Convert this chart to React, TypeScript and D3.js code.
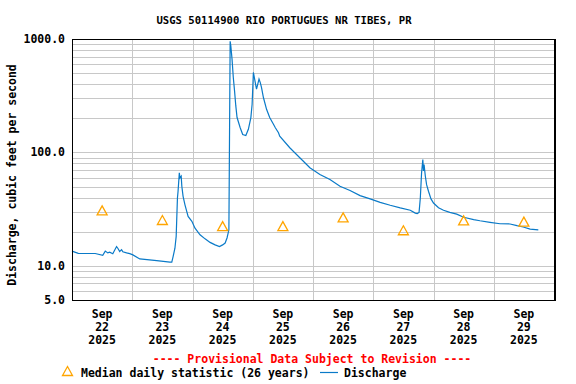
import { useEffect, useRef } from 'react';
import * as d3 from 'd3';

// discharge readings (cfs)
const dischargeTimes = [
  '2025-09-22 00:00', '2025-09-22 02:30', '2025-09-22 09:15', '2025-09-22 12:15', '2025-09-22 13:15',
  '2025-09-22 14:15', '2025-09-22 15:00', '2025-09-22 16:15', '2025-09-22 17:45', '2025-09-22 18:15',
  '2025-09-22 19:00', '2025-09-22 19:45', '2025-09-22 20:15', '2025-09-22 21:45', '2025-09-22 23:00',
  '2025-09-23 00:15', '2025-09-23 03:00', '2025-09-23 09:45', '2025-09-23 15:00', '2025-09-23 15:45',
  '2025-09-23 16:15', '2025-09-23 17:00', '2025-09-23 17:30', '2025-09-23 18:00', '2025-09-23 18:15',
  '2025-09-23 18:45', '2025-09-23 19:00', '2025-09-23 19:30', '2025-09-23 19:45', '2025-09-23 20:15',
  '2025-09-23 21:00', '2025-09-23 22:15', '2025-09-23 23:45', '2025-09-24 01:00', '2025-09-24 03:00',
  '2025-09-24 05:00', '2025-09-24 07:00', '2025-09-24 09:00', '2025-09-24 10:45', '2025-09-24 12:00',
  '2025-09-24 13:00', '2025-09-24 13:45', '2025-09-24 14:30', '2025-09-24 15:00', '2025-09-24 15:15',
  '2025-09-24 15:45', '2025-09-24 16:15', '2025-09-24 16:45', '2025-09-24 17:15', '2025-09-24 17:45',
  '2025-09-24 19:00', '2025-09-24 20:00', '2025-09-24 21:15', '2025-09-24 22:15', '2025-09-24 23:15',
  '2025-09-24 23:45', '2025-09-25 00:15', '2025-09-25 00:45', '2025-09-25 01:15', '2025-09-25 01:30',
  '2025-09-25 02:00', '2025-09-25 02:30', '2025-09-25 03:00', '2025-09-25 03:30', '2025-09-25 04:15',
  '2025-09-25 05:30', '2025-09-25 06:45', '2025-09-25 08:15', '2025-09-25 09:00', '2025-09-25 10:15',
  '2025-09-25 10:45', '2025-09-25 14:45', '2025-09-25 18:45', '2025-09-25 22:45', '2025-09-26 02:45',
  '2025-09-26 06:45', '2025-09-26 10:45', '2025-09-26 14:45', '2025-09-26 18:45', '2025-09-26 22:45',
  '2025-09-27 02:45', '2025-09-27 06:45', '2025-09-27 10:45', '2025-09-27 14:45', '2025-09-27 16:45',
  '2025-09-27 17:30', '2025-09-27 18:15', '2025-09-27 18:45', '2025-09-27 19:15', '2025-09-27 19:45',
  '2025-09-27 20:00', '2025-09-27 20:15', '2025-09-27 20:45', '2025-09-27 21:15', '2025-09-27 22:00',
  '2025-09-27 23:00', '2025-09-28 00:00', '2025-09-28 02:00', '2025-09-28 04:00', '2025-09-28 06:30',
  '2025-09-28 09:15', '2025-09-28 12:00', '2025-09-28 16:00', '2025-09-28 18:30', '2025-09-28 22:30',
  '2025-09-29 02:30', '2025-09-29 06:30', '2025-09-29 09:15', '2025-09-29 11:45', '2025-09-29 14:30',
  '2025-09-29 17:45',
];
const dischargeValues = [
  13.5, 12.9, 12.85, 12.4, 13.5,
  13.0, 13.2, 12.8, 14.8, 14.3,
  13.4, 13.9, 13.3, 13.0, 12.8,
  12.5, 11.5, 11.1, 10.8, 10.8,
  12.0, 14.3, 18.2, 39.7, 45.5,
  66, 59.6, 61.7, 50.3, 41,
  34.5, 27.3, 24.7, 21.5, 18.8,
  17.3, 16.1, 15.3, 14.8, 15.3,
  15.9, 17.6, 20.8, 955, 873,
  665, 458, 349, 257, 203,
  165, 144, 141, 160, 203,
  266, 507, 443, 386, 361,
  400, 443, 413, 373, 305,
  240, 203, 177, 165, 149,
  139, 110, 89.8, 73.2, 63.9,
  57.7, 50.3, 46.1, 41.6, 38.9,
  36.3, 34.2, 32.4, 30.9, 29.2,
  28.9, 29.6, 39.7, 66, 86.6,
  68.6, 78, 61.7, 52, 45.5,
  38.9, 35.8, 32.5, 30.9, 29.6,
  28.6, 26.8, 25.6, 25.0, 24.2,
  23.5, 23.4, 22.6, 22.0, 21.1,
  20.8,
];

// median daily statistic, plotted at noon
const medianDays = ['2025-09-22', '2025-09-23', '2025-09-24', '2025-09-25', '2025-09-26', '2025-09-27', '2025-09-28', '2025-09-29'];
const medianValues = [30.5, 25.1, 22.2, 22.2, 26.5, 20.4, 24.9, 24.3];

const yTickValues = [5, 10, 100, 1000];
const yGridValues = [5, 6, 7, 8, 9, 10, 20, 30, 40, 50, 60, 70, 80, 90, 100, 200, 300, 400, 500, 600, 700, 800, 900, 1000];

const FONT = '"DejaVu Sans Mono", monospace';
const BLUE = '#0a7ac8';
const ORANGE = '#ffa500';

const App = () => {
  const svgRef = useRef<SVGSVGElement>(null);

  useEffect(() => {
    if (!svgRef.current) return;
    const svg = d3.select(svgRef.current);
    svg.selectAll('*').remove();

    const left = 72, right = 554, top = 39, bottom = 300;
    const parse = d3.timeParse('%Y-%m-%d %H:%M');

    const x = d3.scaleTime()
      .domain([parse('2025-09-22 00:00')!, parse('2025-09-30 00:00')!])
      .range([left, right]);
    const y = d3.scaleLog().domain([5, 1000]).range([bottom, top]);

    const crisp = (v: number) => Math.round(v) + 0.5;

    svg.append('rect').attr('width', 576).attr('height', 384).attr('fill', '#fff');

    // horizontal grid
    svg.append('g').selectAll('line')
      .data(yGridValues)
      .enter().append('line')
      .attr('x1', left).attr('x2', right)
      .attr('y1', d => crisp(y(d))).attr('y2', d => crisp(y(d)))
      .attr('stroke', '#c8c8c8').attr('stroke-width', 1);

    // vertical grid at midnight
    const midnights = d3.timeDay.range(parse('2025-09-23 00:00')!, parse('2025-09-30 00:00')!);
    svg.append('g').selectAll('line')
      .data(midnights)
      .enter().append('line')
      .attr('x1', d => crisp(x(d))).attr('x2', d => crisp(x(d)))
      .attr('y1', top).attr('y2', bottom)
      .attr('stroke', '#c8c8c8').attr('stroke-width', 1);

    // discharge line
    const points = dischargeTimes.map((t, i) => ({ t: parse(t)!, v: dischargeValues[i] }));
    const line = d3.line<{ t: Date; v: number }>()
      .x(d => x(d.t))
      .y(d => y(d.v));
    svg.append('path')
      .datum(points)
      .attr('d', line)
      .attr('fill', 'none')
      .attr('stroke', BLUE)
      .attr('stroke-width', 1.2);

    // median triangles
    const tri = (cx: number, cy: number) => `M${cx},${cy - 5}L${cx + 5},${cy + 4}L${cx - 5},${cy + 4}Z`;
    svg.append('g').selectAll('path')
      .data(medianDays.map((d, i) => ({ t: parse(d + ' 12:00')!, v: medianValues[i] })))
      .enter().append('path')
      .attr('d', d => tri(x(d.t), y(d.v)))
      .attr('fill', 'none')
      .attr('stroke', ORANGE)
      .attr('stroke-width', 1.3);

    // frame
    svg.append('rect')
      .attr('x', left + 0.5).attr('y', top + 0.5)
      .attr('width', right - left).attr('height', bottom - top)
      .attr('fill', 'none').attr('stroke', '#000').attr('stroke-width', 1);
    svg.append('line')
      .attr('x1', right + 1.5).attr('x2', right + 1.5).attr('y1', top).attr('y2', bottom + 1)
      .attr('stroke', '#000');

    const text = (g: d3.Selection<SVGTextElement, any, any, any>) =>
      g.style('font-family', FONT).style('font-weight', 'bold').style('font-size', '11.5px').attr('fill', '#000');

    // y tick labels
    svg.append('g').selectAll('text')
      .data(yTickValues)
      .enter().append('text')
      .attr('x', 65)
      .attr('y', d => y(d) + 4)
      .attr('text-anchor', 'end')
      .text(d => d3.format('.1f')(d))
      .call(text);

    // x tick labels at noon
    const noons = medianDays.map(d => parse(d + ' 12:00')!);
    const xl = svg.append('g').selectAll('text')
      .data(noons)
      .enter().append('text')
      .attr('x', d => x(d))
      .attr('text-anchor', 'middle')
      .call(text);
    xl.append('tspan').attr('x', d => x(d)).attr('y', 318).text(d => d3.timeFormat('%b')(d));
    xl.append('tspan').attr('x', d => x(d)).attr('y', 331).text(d => d3.timeFormat('%d')(d));
    xl.append('tspan').attr('x', d => x(d)).attr('y', 344).text(d => d3.timeFormat('%Y')(d));

    // title
    svg.append('text')
      .attr('x', 284).attr('y', 24)
      .attr('text-anchor', 'middle')
      .text('USGS 50114900 RIO PORTUGUES NR TIBES, PR')
      .call(text)
      .style('font-size', '10.6px');

    // y axis title
    svg.append('text')
      .attr('transform', 'translate(16,175) rotate(-90)')
      .attr('text-anchor', 'middle')
      .text('Discharge, cubic feet per second')
      .call(text);

    svg.append('text')
      .attr('x', 312).attr('y', 363)
      .attr('text-anchor', 'middle')
      .text('---- Provisional Data Subject to Revision ----')
      .call(text)
      .attr('fill', '#ff0000');

    // legend
    svg.append('path')
      .attr('d', tri(67.5, 371.5))
      .attr('fill', 'none').attr('stroke', ORANGE).attr('stroke-width', 1.3);
    svg.append('text').attr('x', 81).attr('y', 377).text('Median daily statistic (26 years)').call(text);
    svg.append('line')
      .attr('x1', 320).attr('x2', 338).attr('y1', 372.5).attr('y2', 372.5)
      .attr('stroke', BLUE).attr('stroke-width', 1.2);
    svg.append('text').attr('x', 344).attr('y', 377).text('Discharge').call(text);
  }, []);

  return (
    <div style={{ position: 'absolute', left: 0, top: 0 }}>
      <svg ref={svgRef} width={576} height={384} style={{ display: 'block' }}></svg>
    </div>
  );
};

export default App;
